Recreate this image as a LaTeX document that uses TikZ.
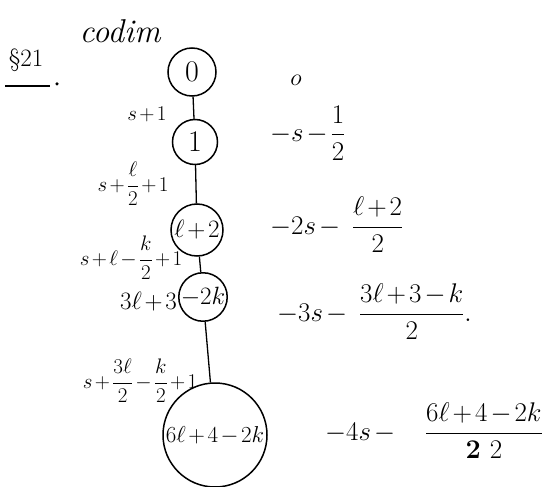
\RequirePackage{fix-cm}
\documentclass[tikz,border=0pt]{standalone}
\usepackage{amsmath}
\begin{document}
\begin{tikzpicture}[x=1pt,y=-1pt,
  every node/.style={font=\fontsize{23}{27}\selectfont, inner sep=0pt,
    execute at begin node={\medmuskip=2mu plus 1mu minus 2mu\thickmuskip=3mu}},
  st/.style={draw, circle, line width=1.5pt, inner sep=0pt},
  big/.style={font=\fontsize{30}{34}\selectfont},
  mid/.style={font=\fontsize{25}{29}\selectfont},
  lbl/.style={font=\fontsize{21}{25}\selectfont},
  val/.style={font=\fontsize{27}{31}\selectfont, anchor=west},
  edge/.style={line width=1.3pt}]
\useasboundingbox[fill=white] (0,0) rectangle (555,487);
% heading
\node[font=\fontsize{25}{29}\selectfont] (title) at (26,60) {\S21};
\coordinate (ul1) at (5,86);
\coordinate (ul2) at (50,86);
\draw[line width=1.6pt] (ul1) -- (ul2);
\node[fill, circle, minimum size=3.5pt] (dot) at (57,84) {};
\node[font=\fontsize{33}{38}\selectfont\itshape] (codim) at (120,31) {codim};
% states
\node[st, big, minimum size=48] (n0) at (192,72) {$0$};
\node[st, big, minimum size=45] (n1) at (195,142) {$1$};
\node[st, mid, minimum size=52] (n2) at (197,230) {$\ell+2$};
\node[st, mid, minimum size=48] (n3) at (203,297) {$-2k$};
\node[mid, anchor=east] (n3l) at (177,302) {$3\ell+3$};
\node[st, minimum size=104] (n4) at (215,435) {$6\ell+4-2k$};
% connectors
\draw[edge] (n0) -- (n1);
\draw[edge] (n1) -- (n2);
\draw[edge] (n2) -- (n3);
\draw[edge] (n3) -- (n4);
% edge labels
\node[lbl] (e1) at (147,114) {$s+1$};
\node[lbl] (e2) at (133,184) {$s+\dfrac{\ell}{2}+1$};
\node[lbl] (e3) at (131,258) {$s+\ell-\dfrac{k}{2}+1$};
\node[lbl] (e4) at (140,381) {$s+\dfrac{3\ell}{2}-\dfrac{k}{2}+1$};
% codimension values
\node[font=\fontsize{24}{28}\selectfont] (v0) at (296,80) {$o$};
\node[val] (v1) at (270,133) {$-s-\dfrac{1}{2}$};
\node[val] (v2) at (270,225) {$-2s-\;\;\dfrac{\ell+2}{2}$};
\node[val] (v3) at (277,312) {$-3s-\;\;\dfrac{3\ell+3-k}{2}.$};
\node[val] (v4) at (325,431) {$-4s-\quad\dfrac{6\ell+4-2k}{\mathbf{2}\;\;2}$};
\end{tikzpicture}
\end{document}
